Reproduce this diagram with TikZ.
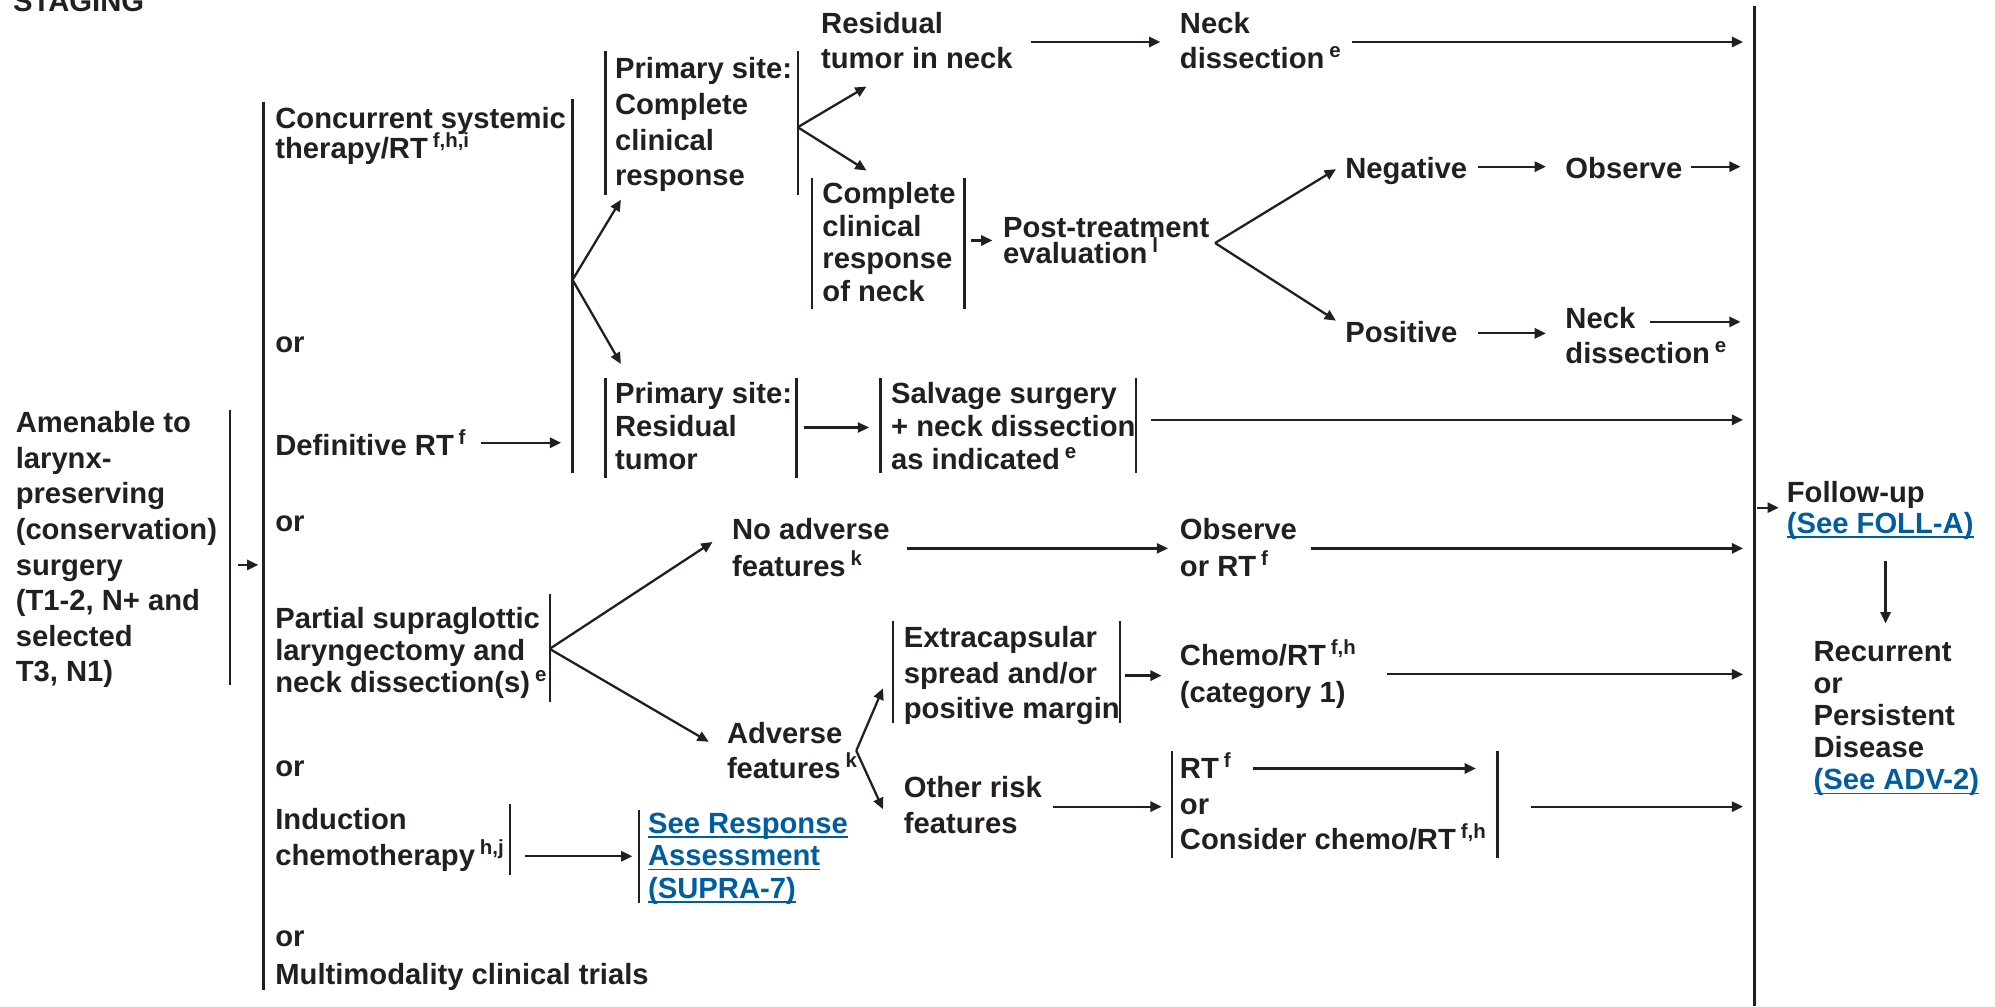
\documentclass[tikz,border=0pt]{standalone}
\usepackage{fontspec}
\setmainfont{Liberation Sans}
\usetikzlibrary{arrows.meta}
\definecolor{ink}{RGB}{35,31,32}
\definecolor{linkblue}{RGB}{0,94,160}
% stacked lines, baseline of the box = baseline of the first line
\newcommand\block[2]{\vtop{\baselineskip=#1\lineskiplimit=-\maxdimen\halign{##\hfil\cr#2\crcr}}}
\newcommand\sups[1]{\,\textsuperscript{#1}}
\newcommand\linkul[1]{{\color{linkblue}\setbox0\hbox{#1}\rlap{\rule[-1.8pt]{\wd0}{0.6pt}}\box0}}
\begin{document}
\begin{tikzpicture}[x=0.5pt,y=-0.5pt,
  txt/.style={anchor=base west, inner sep=0pt, text=ink, font=\bfseries\fontsize{11.48}{14}\selectfont},
  bar/.style={draw=ink, line width=0.9pt},
  arr/.style={draw=ink, line width=0.9pt, -{Triangle[length=4.4pt,width=4pt]}}]
\useasboundingbox (0,0) rectangle (1568,791);

% ---------- text ----------
\node[txt] (staging) at (10,9) {STAGING};
\node[txt] (amen) at (12,340) {\block{14pt}{Amenable to\cr larynx-\cr preserving\cr (conservation)\cr surgery\cr (T1-2, N+ and\cr selected\cr T3, N1)}};

\node[txt] (conc) at (216,101) {\block{11.8pt}{Concurrent systemic\cr therapy/RT\sups{f,h,i}}};
\node[txt] (or1) at (216,277) {or};
\node[txt] (defrt) at (216,358) {Definitive RT\sups{f}};
\node[txt] (or2) at (216,418) {or};
\node[txt] (partial) at (216,494) {\block{12.5pt}{Partial supraglottic\cr laryngectomy and\cr neck dissection(s)\sups{e}}};
\node[txt] (or3) at (216,610) {or};
\node[txt] (induction) at (216,652) {\block{14pt}{Induction\cr chemotherapy\sups{h,j}}};
\node[txt] (or4) at (216,744) {or};
\node[txt] (multi) at (216,774) {Multimodality clinical trials};

\node[txt] (prim1) at (483,62) {\block{14pt}{Primary site:\cr Complete\cr clinical\cr response}};
\node[txt] (resneck) at (645,26) {\block{14pt}{Residual\cr tumor in neck}};
\node[txt] (neckd1) at (927,26) {\block{14pt}{Neck\cr dissection\sups{e}}};
\node[txt] (ccrn) at (646,160) {\block{12.85pt}{Complete\cr clinical\cr response\cr of neck}};
\node[txt] (post) at (788,187) {\block{10pt}{Post-treatment\cr evaluation\sups{l}}};
\node[txt] (neg) at (1057,140) {Negative};
\node[txt] (obs) at (1230,140) {Observe};
\node[txt] (pos) at (1057,269) {Positive};
\node[txt] (neckd2) at (1230,258) {\block{14pt}{Neck\cr dissection\sups{e}}};

\node[txt] (prim2) at (483,317) {\block{13pt}{Primary site:\cr Residual\cr tumor}};
\node[txt] (salvage) at (700,317) {\block{13pt}{Salvage surgery\cr + neck dissection\cr as indicated\sups{e}}};

\node[txt] (noadv) at (575,424) {\block{14.5pt}{No adverse\cr features\sups{k}}};
\node[txt] (obsrt) at (927,424) {\block{14.5pt}{Observe\cr or RT\sups{f}}};
\node[txt] (adv) at (571,584) {\block{14pt}{Adverse\cr features\sups{k}}};
\node[txt] (extra) at (710,509) {\block{14pt}{Extracapsular\cr spread and/or\cr positive margin}};
\node[txt] (chemo) at (927,523) {\block{14.5pt}{Chemo/RT\sups{f,h}\cr (category 1)}};
\node[txt] (other) at (710,627) {\block{14pt}{Other risk\cr features}};
\node[txt] (rtor) at (927,612) {\block{14pt}{RT\sups{f}\cr or\cr Consider chemo/RT\sups{f,h}}};
\node[txt] (seeresp) at (509,655) {\block{12.75pt}{\linkul{See Response}\cr \linkul{Assessment}\cr \linkul{(SUPRA-7)}}};

\node[txt] (follow) at (1404,395) {\block{12pt}{Follow-up\cr \linkul{(See FOLL-A)}}};
\node[txt] (recur) at (1425,520) {\block{12.6pt}{Recurrent\cr or\cr Persistent\cr Disease\cr \linkul{(See ADV-2)}}};

% ---------- bracket bars ----------
\coordinate (amenT) at (181,322);  \coordinate (amenB) at (181,538);
\coordinate (mainT) at (207,80);   \coordinate (mainB) at (207,778);
\coordinate (concT) at (450,78);   \coordinate (concB) at (450,372);
\coordinate (p1LT) at (476,40);    \coordinate (p1LB) at (476,153);
\coordinate (p1RT) at (627,40);    \coordinate (p1RB) at (627,153);
\coordinate (ccLT) at (638,140);   \coordinate (ccLB) at (638,243);
\coordinate (ccRT) at (758,140);   \coordinate (ccRB) at (758,243);
\coordinate (p2LT) at (476,297);   \coordinate (p2LB) at (476,376);
\coordinate (p2RT) at (626,297);   \coordinate (p2RB) at (626,376);
\coordinate (svLT) at (692,297);   \coordinate (svLB) at (692,372);
\coordinate (svRT) at (893,297);   \coordinate (svRB) at (893,372);
\coordinate (ptT) at (432,467);    \coordinate (ptB) at (432,552);
\coordinate (inT) at (401,632);    \coordinate (inB) at (401,688);
\coordinate (srT) at (502,637);    \coordinate (srB) at (502,710);
\coordinate (exLT) at (702,488);   \coordinate (exLB) at (702,568);
\coordinate (exRT) at (880,488);   \coordinate (exRB) at (880,568);
\coordinate (roLT) at (921,590);   \coordinate (roLB) at (921,674);
\coordinate (roRT) at (1177,590);  \coordinate (roRB) at (1177,674);
\coordinate (endT) at (1379,5);    \coordinate (endB) at (1379,791);

\foreach \a/\b in {amenT/amenB, mainT/mainB, concT/concB, p1LT/p1LB, p1RT/p1RB,
  ccLT/ccLB, ccRT/ccRB, p2LT/p2LB, p2RT/p2RB, svLT/svLB, svRT/svRB, ptT/ptB,
  inT/inB, srT/srB, exLT/exLB, exRT/exRB, roLT/roLB, roRT/roRB, endT/endB}
  \draw[bar] (\a) -- (\b);

% ---------- connector ends ----------
\coordinate (amenOut) at (187,444);   \coordinate (amenIn) at (203,444);
\coordinate (defOut) at (378,348);    \coordinate (defIn) at (441,348);
\coordinate (concFork) at (450,220);
\coordinate (toPrim1) at (488,157);   \coordinate (toPrim2) at (488,286);
\coordinate (p1Fork) at (627,100);
\coordinate (toResNeck) at (681,68);  \coordinate (toCcrn) at (681,134);
\coordinate (rnOut) at (810,33);      \coordinate (rnIn) at (912,33);
\coordinate (nd1Out) at (1063,33);    \coordinate (nd1In) at (1370,33);
\coordinate (ccOut) at (763,189);     \coordinate (ccIn) at (780,189);
\coordinate (postFork) at (955,191);
\coordinate (toNeg) at (1050,133);    \coordinate (toPos) at (1050,252);
\coordinate (negOut) at (1162,131);   \coordinate (negIn) at (1215,131);
\coordinate (obsOut) at (1329,131);   \coordinate (obsIn) at (1368,131);
\coordinate (posOut) at (1162,262);   \coordinate (posIn) at (1215,262);
\coordinate (nd2Out) at (1297,253);   \coordinate (nd2In) at (1368,253);
\coordinate (p2Out) at (632,336);     \coordinate (p2In) at (683,336);
\coordinate (svOut) at (905,330);     \coordinate (svIn) at (1370,330);
\coordinate (ptFork) at (432,510);
\coordinate (toNoAdv) at (560,426);   \coordinate (toAdv) at (557,583);
\coordinate (naOut) at (713,431);     \coordinate (naIn) at (918,431);
\coordinate (orOut) at (1030,431);    \coordinate (orIn) at (1370,431);
\coordinate (advFork) at (673,590);
\coordinate (toExtra) at (694,541);   \coordinate (toOther) at (694,636);
\coordinate (exOut) at (884,531);     \coordinate (exIn) at (913,531);
\coordinate (chOut) at (1090,530);    \coordinate (chIn) at (1370,530);
\coordinate (otOut) at (828,634);     \coordinate (otIn) at (913,634);
\coordinate (rtOut) at (985,604);     \coordinate (rtIn) at (1160,604);
\coordinate (roOut) at (1203,634);    \coordinate (roIn) at (1370,634);
\coordinate (indOut) at (413,673);    \coordinate (indIn) at (497,673);
\coordinate (fuOut) at (1381,399);    \coordinate (fuIn) at (1398,399);
\coordinate (recOut) at (1482,441);   \coordinate (recIn) at (1482,490);

% ---------- arrows ----------
\foreach \a/\b in {amenOut/amenIn, defOut/defIn, concFork/toPrim1, concFork/toPrim2,
  p1Fork/toResNeck, p1Fork/toCcrn, rnOut/rnIn, nd1Out/nd1In, ccOut/ccIn,
  postFork/toNeg, postFork/toPos, negOut/negIn, obsOut/obsIn, posOut/posIn,
  nd2Out/nd2In, p2Out/p2In, svOut/svIn, ptFork/toNoAdv, ptFork/toAdv,
  naOut/naIn, orOut/orIn, advFork/toExtra, advFork/toOther, exOut/exIn,
  chOut/chIn, otOut/otIn, rtOut/rtIn, roOut/roIn, indOut/indIn, fuOut/fuIn,
  recOut/recIn}
  \draw[arr] (\a) -- (\b);
\end{tikzpicture}
\end{document}
